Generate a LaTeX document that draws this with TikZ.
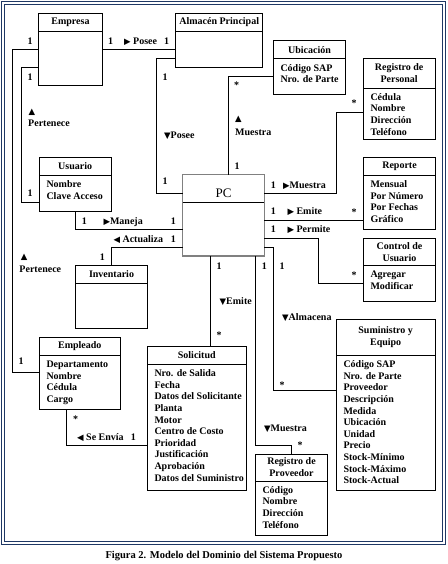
\documentclass[tikz,border=0pt]{standalone}
\usepackage{fontspec}
\setmainfont{Liberation Serif}
\newfontfamily\simbolo{DejaVu Sans}
\definecolor{marco}{RGB}{31,56,100}

\newcommand{\tri}[1]{{\simbolo\fontsize{8.5}{8.5}\selectfont #1}}
% caja de clase: nombre, x, y, ancho, alto, alto cabecera, titulo, atributos
\newcommand{\clase}[8]{%
  \node[caja, minimum width=#4, minimum height=#5] (#1) at (#2,#3) {};
  \draw[enlace] ([yshift=-#6]#1.north west) -- ([yshift=-#6]#1.north east);
  \node[titulo] (#1-titulo) at ([yshift=-#6/2]#1.north) {#7};
  \if\relax\detokenize{#8}\relax\else
  \node[atributos] (#1-atributos) at ([xshift=7, yshift=-#6-4]#1.north west) {\strut #8};
  \fi
}

\begin{document}
\begin{tikzpicture}[x=1pt, y=-1pt]
\tikzstyle{caja}=[draw, line width=0.8pt, anchor=north west, inner sep=0pt, outer sep=0pt]
\tikzstyle{enlace}=[line width=0.8pt]
\tikzstyle{titulo}=[font=\bfseries\fontsize{10}{12}\selectfont, align=center, inner sep=0pt]
\tikzstyle{atributos}=[font=\bfseries\fontsize{10}{11.6}\selectfont, align=left, anchor=north west, inner sep=0pt]
\tikzstyle{etiqueta}=[font=\bfseries\fontsize{10}{12}\selectfont, inner sep=0pt, anchor=base]
\tikzstyle{rol}=[etiqueta, anchor=base west]

\useasboundingbox (0,0) rectangle (447,564);
\draw[marco, line width=1.2pt] (1.5,1.5) rectangle (445.3,544.7);
\draw[marco, line width=0.9pt] (4.6,4.6) rectangle (442.4,541.2);

% clases
\clase{empresa}{38.5}{13.3}{64}{72}{18}{Empresa}{}
\clase{almacen}{175.7}{13.3}{87}{54}{18}{Almacén Principal}{}
\clase{ubicacion}{273.3}{40.7}{72.4}{53.6}{18}{Ubicación}{Código SAP\\Nro. de Parte}
\clase{rpersonal}{363.3}{58.3}{71.7}{81}{29.7}{Registro de\\Personal}{Cédula\\Nombre\\Dirección\\Teléfono}
\clase{usuario}{39.3}{157.3}{71.7}{54}{18}{Usuario}{Nombre\\Clave Acceso}
\clase{inventario}{75.7}{265.3}{71.6}{63}{18}{Inventario}{}
\clase{reporte}{363.3}{157.3}{72.4}{72}{18}{Reporte}{Mensual\\Por Número\\Por Fechas\\Gráfico}
\clase{control}{363.3}{238.3}{72.4}{62.7}{27}{Control de\\Usuario}{Agregar\\Modificar}
\clase{empleado}{39.3}{337.3}{81}{72}{18}{Empleado}{Departamento\\Nombre\\Cédula\\Cargo}
\clase{solicitud}{147.3}{346.3}{99}{143.7}{18}{Solicitud}{Nro. de Salida\\Fecha\\Datos del Solicitante\\Planta\\Motor\\Centro de Costo\\Prioridad\\Justificación\\Aprobación\\Datos del Suministro}
\clase{suministro}{336.3}{319.3}{98.7}{171.4}{36}{Suministro y\\Equipo}{Código SAP\\Nro. de Parte\\Proveedor\\Descripción\\Medida\\Ubicación\\Unidad\\Precio\\Stock-Mínimo\\Stock-Máximo\\Stock-Actual}
\clase{rproveedor}{255.3}{454}{72.4}{81}{27}{Registro de\\Proveedor}{Código\\Nombre\\Dirección\\Teléfono}

% PC
\node[caja, draw=gray, line width=1.2pt, minimum width=81.6, minimum height=81.3] (pc) at (182.7,174.7) {};
\draw[enlace] ([yshift=-27.6]pc.north west) -- ([yshift=-27.6]pc.north east);
\node[font=\fontsize{13}{15}\selectfont, inner sep=0pt] (pc-titulo) at ([yshift=-18.5]pc.north) {PC};

% asociaciones
\draw[enlace] (empresa.east) -- (empresa.east -| almacen.west);
\draw[enlace] (empresa.west |- 0,67.7) -- ++(-16.7,0) |- (usuario.west |- 0,202.3);
\draw[enlace] (empresa.west) -- ++(-26.2,0) |- (empleado.west |- 0,372.7);
\draw[enlace] (almacen.west |- 0,58.7) -- ++(-19.4,0) |- (pc.west |- 0,193.3);
\draw[enlace] (ubicacion.west |- 0,76.3) -| (pc.north -| 228.3,0);
\draw[enlace] (pc.east |- 0,193.3) -- ++(72.4,0) |- (rpersonal.west |- 0,112.3);
\draw[enlace] (pc.east |- 0,220.3) -- (reporte.west |- 0,220.3);
\draw[enlace] (pc.east |- 0,238.3) -- ++(54.4,0) |- (control.west |- 0,283.3);
\draw[enlace] (pc.east |- 0,247.7) -- ++(9,0) |- (suministro.west |- 0,390.7);
\draw[enlace] (pc.west |- 0,247.3) -| (inventario.north -| 111.3,0);
\draw[enlace] (usuario.south -| 75.7,0) |- (pc.west |- 0,229.3);
\draw[enlace] (pc.south -| 210.7,0) -- (solicitud.north -| 210.7,0);
\draw[enlace] (pc.south -| 255.7,0) |- (291.7,445.3) -- (rproveedor.north -| 291.7,0);
\draw[enlace] (empleado.south -| 66.7,0) |- (solicitud.west |- 0,445);

% etiquetas
\node[etiqueta] (posee-e) at (110.5,44.1) {1};
\node[rol] (posee) at (124,44.1) {\tri{▶} Posee};
\node[etiqueta] (posee-a) at (166.7,44.1) {1};

\node[etiqueta] (pert-e1) at (30,80.1) {1};
\node[rol] (pert-t1) at (28.5,115) {\tri{▲}};
\node[rol] (pert1) at (28,126.1) {Pertenece};
\node[etiqueta] (pert-u) at (30,196.1) {1};

\node[etiqueta] (pert-e2) at (30,44.1) {1};
\node[rol] (pert-t2) at (20.7,259.4) {\tri{▲}};
\node[rol] (pert2) at (19.3,272.1) {Pertenece};
\node[etiqueta] (pert-em) at (21,364.1) {1};

\node[etiqueta] (pose-a) at (165,80.1) {1};
\node[rol] (pose) at (164,138.1) {\tri{▼}Posee};
\node[etiqueta] (pose-p) at (165,184.1) {1};

\node[etiqueta] (mues-u) at (236.7,89) {*};
\node[rol] (mues-t) at (235,121.7) {\tri{▲}};
\node[rol] (mues) at (235,135.1) {Muestra};
\node[etiqueta] (mues-p) at (237,169.4) {1};

\node[etiqueta] (mrp-p) at (273.3,188.1) {1};
\node[rol] (mrp) at (283,188.1) {\tri{▶}Muestra};
\node[etiqueta] (mrp-r) at (354,106.4) {*};

\node[etiqueta] (emi-p) at (273.3,214.7) {1};
\node[rol] (emi) at (287.3,214.7) {\tri{▶} Emite};
\node[etiqueta] (emi-r) at (354,215.4) {*};

\node[etiqueta] (per-p) at (273.3,232.7) {1};
\node[rol] (per) at (287.3,232.7) {\tri{▶} Permite};
\node[etiqueta] (per-c) at (354,278.7) {*};

\node[etiqueta] (man-u) at (84.3,224.1) {1};
\node[rol] (man) at (103.3,224.1) {\tri{▶}Maneja};
\node[etiqueta] (man-p) at (173.3,224.1) {1};

\node[rol] (act) at (113.3,242.1) {\tri{◀} Actualiza};
\node[etiqueta] (act-p) at (173.3,242.1) {1};
\node[etiqueta] (act-i) at (102.3,260.1) {1};

\node[etiqueta] (ems-p) at (219,269.1) {1};
\node[rol] (ems) at (219.5,304.4) {\tri{▼}Emite};
\node[etiqueta] (ems-s) at (219,338) {*};

\node[etiqueta] (mpr-p) at (264.3,269.1) {1};
\node[rol] (mpr) at (264,431.1) {\tri{▼}Muestra};
\node[etiqueta] (mpr-r) at (300,448.7) {*};

\node[etiqueta] (alm-p) at (282,269.1) {1};
\node[rol] (alm) at (282,320.1) {\tri{▼}Almacena};
\node[etiqueta] (alm-s) at (282,388.7) {*};

\node[etiqueta] (env-e) at (75.7,422) {*};
\node[rol] (env) at (77,440.1) {\tri{◀} Se Envía};
\node[etiqueta] (env-s) at (133.3,440.1) {1};

\node[font=\bfseries\fontsize{10.5}{12}\selectfont, inner sep=0pt] (leyenda) at (224,556) {Figura 2. Modelo del Dominio del Sistema Propuesto};
\end{tikzpicture}
\end{document}
